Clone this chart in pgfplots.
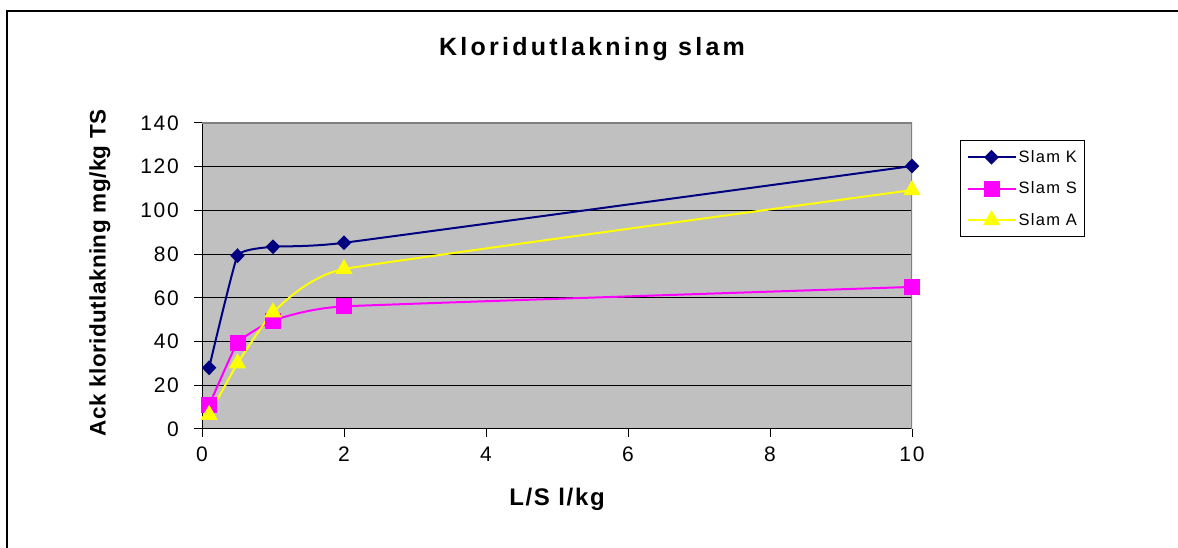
\documentclass[border=0pt]{standalone}
\usepackage{fontspec}
\setmainfont{Liberation Sans}[LetterSpace=8]
\usepackage{pgfplots}
\pgfplotsset{compat=1.18}
\definecolor{plotgrey}{HTML}{C0C0C0}
\definecolor{navyK}{HTML}{000080}
\definecolor{magS}{HTML}{FF00FF}
\definecolor{yelA}{HTML}{FFFF00}
\definecolor{frameg}{HTML}{808080}
\begin{document}
\begin{tikzpicture}[x=1pt,y=1pt]
\useasboundingbox (0,0) rectangle (1178,548);
\draw[line width=2pt] (7,0) -- (7,537) -- (1178,537);
\node[font=\fontsize{25}{30}\selectfont\bfseries\addfontfeatures{LetterSpace=13}] at (592,499) {Kloridutlakning slam};
\begin{axis}[
  at={(202pt,119pt)}, anchor=south west,
  scale only axis, width=710pt, height=306pt,
  xmin=0, xmax=10, ymin=0, ymax=140,
  xtick={0,2,...,10}, ytick={0,20,...,140},
  tick align=outside, tick pos=left,
  major tick length=8pt,
  tick style={black, line width=1pt},
  axis background/.style={fill=plotgrey},
  ymajorgrids, major grid style={black, line width=1pt},
  axis line style={draw=none},
  /pgf/number format/assume math mode=true,
  ticklabel style={font=\fontsize{21}{25}\selectfont},
  yticklabel style={anchor=east, inner sep=0pt, xshift=-15pt},
  xticklabel style={anchor=north, inner sep=0pt, yshift=-10pt},
  xlabel={L/S l/kg},
  ylabel={Ack kloridutlakning mg/kg TS},
  xlabel style={font=\fontsize{24}{28}\selectfont\bfseries\addfontfeatures{LetterSpace=7}, at={(axis description cs:0.5,-0.229)}, anchor=center},
  ylabel style={font=\fontsize{22.5}{26}\selectfont\bfseries\addfontfeatures{LetterSpace=2}, at={(axis description cs:-0.1437,0.51)}, anchor=center},
  legend style={at={(axis description cs:1.0676,0.9444)}, anchor=north west, draw=black, line width=1pt, fill=white,
    font=\fontsize{16.5}{19}\selectfont, row sep=14pt, inner xsep=6pt, inner ysep=8pt},
  legend cell align=left,
  legend image code/.code={\draw[mark repeat=2,mark phase=2,#1] plot coordinates {(0pt,0pt) (24pt,0pt) (48pt,0pt)};},
]
\draw[black, line width=1pt] (rel axis cs:0,1) -- (rel axis cs:0,0) -- (rel axis cs:1,0);
\draw[frameg, line width=2pt] (rel axis cs:0,1) -- (rel axis cs:1,1) -- (rel axis cs:1,0);
\addplot[navyK, line width=2pt, smooth, tension=0.2, mark=diamond*, mark size=6pt, mark options={solid, fill=navyK, xscale=1.3}]
  coordinates {(0.1,28) (0.5,79.3) (1,83.4) (2,85.2) (10,120.3)};
\addlegendentry{Slam K}
\addplot[magS, line width=2pt, smooth, tension=0.2, mark=square*, mark size=7pt, mark options={solid, fill=magS}]
  coordinates {(0.1,10.8) (0.5,39.5) (1,49.6) (2,56.1) (10,65)};
\addlegendentry{Slam S}
\addplot[yelA, line width=2pt, smooth, tension=0.2, mark=triangle*, mark size=8pt, mark options={solid, fill=yelA}]
  coordinates {(0.1,6.5) (0.5,30) (1,53.4) (2,73.2) (10,109.3)};
\addlegendentry{Slam A}
\end{axis}
\end{tikzpicture}
\end{document}
